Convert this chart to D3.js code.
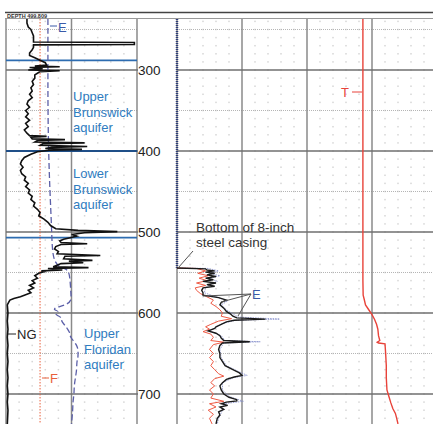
<!DOCTYPE html>
<html>
<head>
<meta charset="utf-8">
<script src="https://cdn.jsdelivr.net/npm/d3@7"></script>
<style>
  body { margin: 0; background: #fff; }
  text { font-family: "Liberation Sans", Arial, sans-serif; }
</style>
</head>
<body>
<div id="log"></div>
<script>
// depth ticks and aquifer boundaries (feet)
var depthTicks = [300, 400, 500, 600, 700];
var halfTicks = [250, 350, 450, 550, 650];
var aquiferTops = [288, 400, 507];

// left track: natural gamma (NG), electric (E), fluid (F) -- relative units 0-100
var ngLog = [[237,16],[242,16],[247,17],[250,19],[254,20],[258,21],[262,21],[265.5,21],[266,98],[268.5,98],[269,21],
  [272,21],[275,20],[279,18],[282,18],[285,22],[288,26],[291,30],[294,31],[295,22],[296,41],[297,18],[298.5,28],
  [300,17],[301,41],[302,26],[304,24],[306,22],[310,22],[314,20],[318,21],
  [322,19],[326,20],[330,18],[334,20],[338,17],[342,16],[346,18],[350,15],[354,17],[358,15],[362,18],[366,15],
  [370,17],[374,14],[378,16],[381,18],[382,31],[383,19],[385,20],[386,45],[387,24],[389,22],[390,60],[391,28],
  [393,26],[394.5,62],[395.5,35],[397,30],[398,58],[399,33],[401,24],[404,19],[408,14],[412,12],[416,11],[420,13],
  [424,11],[428,12],[432,15],[436,14],[440,17],[444,15],[448,18],[452,17],[456,20],[460,19],[464,22],[468,21],
  [472,24],[476,26],[480,25],[484,29],[488,32],[492,34],[496,38],[498,55],[499.5,85],[501,60],[503,50],[505,54],
  [507,49],[509,44],[511,41],[513,42],[514.5,62],[515.5,42],[518,38],[521,37],[524,40],[527,39],[529,72],[530,45],
  [533,44],[535,66],[536,48],[538,59],[539,42],[541,39],[543,36],[544,63],[545,32],[547,43],[548,27],[549,29],
  [551,25],[554,22],[557,24],[560,20],[563,22],[566,18],[569,21],[572,17],[575,19],[578,14],[580,11],[582,6],
  [584,3],[587,2],[590,1],[600,1.5],[610,1],[620,1.5],[630,1],[640,1.5],[650,1],[660,1.5],[670,1],[680,1.5],
  [690,1],[700,1.5],[710,1],[720,1.5],[737,1]];
var eLeft = [[237,32],[300,32],[350,32],[400,32.5],[450,33.5],[500,35],[540,35.5],[545,45],[548,48],[560,49],
  [575,49.5],[585,50],[590,46],[593,38],[596,36],[598,41],[600,37],[603,39],[606,43],[610,42],[615,45],[620,47],
  [625,49],[630,49],[635,52],[640,54],[645,55],[650,55],[655,55],[660,54],[670,54],[680,53],[690,52],[700,52],
  [710,51],[720,51],[737,50]];
var fLog = [[237,26],[737,26]];

// right track: electric logs (black, red, blue) and temperature (T) -- relative units 0-20
var casingBottom = 544.5;
var eRight = [[544.5,0],[545.5,2.2],[547,2.3],[548,2.9],[549.5,2.2],[551,2.9],[553,2.3],[555,3.0],[557,2.2],
  [559,2.8],[561,2.0],[563,3.0],[565,2.3],[567,2.9],[569,2.0],[572,1.9],[575,2.0],[578,2.0],[581,3.2],[584,3.8],
  [587,3.4],[590,3.3],[594,3.6],[598,3.8],[601,4.1],[604,4.3],[606,4.6],[607.5,6.8],[609,4.4],[611,3.8],[614,3.4],
  [617,3.0],[619,2.9],[622,2.4],[625,3.0],[628,3.3],[631,3.4],[634,3.6],[635.5,5.6],[637,3.5],[640,3.3],[645,3.2],
  [650,3.3],[655,3.3],[660,3.5],[665,3.7],[670,4.3],[674,4.8],[677,5.0],[679,4.4],[682,3.8],[686,3.5],[690,3.3],
  [695,3.4],[700,3.6],[704,4.0],[707,4.6],[708.5,4.6],[710,3.8],[712,3.4],[714,3.9],[716,3.3],[719,3.6],[722,3.2],
  [726,3.3],[730,3.1],[737,3.0]];
var eRightRed = [[544.5,0],[545,1.5],[548,2.2],[551,1.6],[554,2.4],[557,1.7],[560,2.3],[563,1.5],[566,2.2],
  [569,1.4],[572,1.5],[576,1.8],[580,2.3],[584,2.8],[588,2.6],[592,3.0],[596,3.3],[600,3.5],[604,3.4],[607,4.2],
  [610,3.2],[614,2.6],[617,2.2],[620,2.5],[623,2.0],[626,2.6],[630,2.8],[634,2.6],[636,3.6],[639,2.8],[645,2.5],
  [650,2.8],[655,2.5],[660,2.8],[665,2.6],[670,2.9],[675,3.2],[678,3.6],[681,2.9],[686,2.6],[690,2.9],[695,2.5],
  [700,2.8],[705,2.6],[709,3.6],[712,2.5],[716,3.0],[720,2.4],[725,2.8],[730,2.5],[737,2.7]];
var eRightBlue = [[237,0],[544.5,0],[545,2.4],[548,3.2],[551,2.5],[554,3.3],[557,2.5],[561,3.1],[565,2.5],
  [569,2.2],[575,2.1],[580,3.0],[585,3.9],[590,3.4],[596,3.8],[600,4.2],[605,4.7],[607.5,7.9],[609,4.5],[613,3.5],
  [618,3.0],[622,2.5],[628,3.4],[634,3.7],[635.5,6.4],[637,3.6],[645,3.3],[655,3.4],[665,3.8],[672,4.7],[677,5.4],
  [680,4.3],[686,3.5],[695,3.5],[703,4.0],[709,5.1],[712,3.6],[720,3.5],[730,3.2],[737,3.1]];
var tLog = [[237,14.3],[400,14.3],[560,14.3],[578,14.32],[583,14.4],[590,14.5],[596,14.75],[602,15.0],[608,15.2],
  [614,15.35],[620,15.45],[628,15.5],[634,15.6],[636,15.4],[637,15.5],[638,16.0],[650,16.05],[665,16.1],[680,16.1],
  [695,16.15],[703,16.3],[711,16.45],[718,16.6],[724,16.8],[730,16.9],[737,17.0]];

var aquiferLabels = [
  {depth: 300, lines: ["Upper", "Brunswick", "aquifer"]},
  {depth: 400, lines: ["Lower", "Brunswick", "aquifer"]},
  {depth: 600, lines: ["Upper", "Floridan", "aquifer"]}
];

var svgWidth = 433, svgHeight = 424;
var trackTop = 19;

var svg = d3.select("#log").append("svg")
  .attr("width", svgWidth)
  .attr("height", svgHeight);

var y = d3.scaleLinear().domain([300, 700]).range([70, 394]);
var xL = d3.scaleLinear().domain([0, 100]).range([6, 137]);
var xR = d3.scaleLinear().domain([0, 20]).range([177, 437]);

var defs = svg.append("defs");
defs.append("clipPath").attr("id", "clipL").append("rect")
  .attr("x", xL(0)).attr("y", trackTop).attr("width", xL(100) - xL(0)).attr("height", svgHeight - trackTop);
defs.append("clipPath").attr("id", "clipR").append("rect")
  .attr("x", xR(0) - 2).attr("y", trackTop).attr("width", svgWidth - xR(0) + 2).attr("height", svgHeight - trackTop);

// header band
svg.append("line").attr("x1", 5).attr("x2", svgWidth).attr("y1", 12.5).attr("y2", 12.5)
  .attr("stroke", "#444").attr("stroke-width", 1.5);
svg.append("line").attr("x1", 5).attr("x2", svgWidth).attr("y1", 18.5).attr("y2", 18.5)
  .attr("stroke", "#999").attr("stroke-width", 1);
svg.append("text").attr("x", 7).attr("y", 17.6)
  .attr("font-size", 5.5).attr("font-weight", "bold").attr("fill", "#333")
  .text("DEPTH   499.809");

// minor dot grid
var rows = d3.range(240, 740, 10);
var dotsL = [], dotsR = [];
rows.forEach(function(d) {
  d3.range(1, 10).forEach(function(c) { if (c !== 5) dotsL.push([d, c * 10]); });
  d3.range(1, 20).forEach(function(c) { if (c % 5 !== 0) dotsR.push([d, c]); });
});
svg.append("g").selectAll("rect").data(dotsL).enter().append("rect")
  .attr("x", d => xL(d[1]) - 0.75).attr("y", d => y(d[0]) - 0.75)
  .attr("width", 1.5).attr("height", 1.5).attr("fill", "#d6d6d6");
svg.append("g").selectAll("rect").data(dotsR).enter().append("rect")
  .attr("x", d => xR(d[1]) - 0.75).attr("y", d => y(d[0]) - 0.75)
  .attr("width", 1.5).attr("height", 1.5).attr("fill", "#d6d6d6");

// half-hundred dotted lines
var grid = svg.append("g");
halfTicks.forEach(function(d) {
  grid.append("line").attr("x1", xL(0)).attr("x2", xL(100)).attr("y1", y(d)).attr("y2", y(d))
    .attr("stroke", "#b5b5b5").attr("stroke-dasharray", "1,1");
  grid.append("line").attr("x1", xR(0)).attr("x2", svgWidth).attr("y1", y(d)).attr("y2", y(d))
    .attr("stroke", "#b5b5b5").attr("stroke-dasharray", "1,1");
});

// vertical track lines
[0, 50, 100].forEach(function(v) {
  grid.append("line").attr("x1", xL(v)).attr("x2", xL(v)).attr("y1", trackTop).attr("y2", svgHeight)
    .attr("stroke", "#8a8a8a").attr("stroke-width", 1.5);
});
[0, 5, 10, 15].forEach(function(v) {
  grid.append("line").attr("x1", xR(v)).attr("x2", xR(v)).attr("y1", trackTop).attr("y2", svgHeight)
    .attr("stroke", "#8a8a8a").attr("stroke-width", 1.5);
});

// major depth lines
depthTicks.forEach(function(d) {
  grid.append("line").attr("x1", xL(0)).attr("x2", 138).attr("y1", y(d)).attr("y2", y(d))
    .attr("stroke", "#6f6f6f").attr("stroke-width", 1.5);
  grid.append("line").attr("x1", xR(0)).attr("x2", svgWidth).attr("y1", y(d)).attr("y2", y(d))
    .attr("stroke", "#6f6f6f").attr("stroke-width", 1.5);
});

// depth labels
var depthAxis = d3.axisRight(y).tickValues(depthTicks).tickSize(0).tickPadding(1);
svg.append("g")
  .attr("transform", "translate(137,0)")
  .call(depthAxis)
  .call(g => g.select(".domain").remove())
  .selectAll("text")
  .attr("font-size", 13.5)
  .attr("font-family", "Liberation Sans, Arial, sans-serif")
  .attr("fill", "#222");

// aquifer boundaries
svg.append("g").selectAll("line").data(aquiferTops).enter().append("line")
  .attr("x1", xL(0)).attr("x2", xL(100))
  .attr("y1", d => y(d)).attr("y2", d => y(d))
  .attr("stroke", d => d === 400 ? "#1f4f88" : "#2d6cb0").attr("stroke-width", 1.8);

var line = function(xs) {
  return d3.line().x(d => xs(d[1])).y(d => y(d[0]));
};

// left track curves
var left = svg.append("g").attr("clip-path", "url(#clipL)");
left.append("path").datum(fLog).attr("d", line(xL))
  .attr("fill", "none").attr("stroke", "#e8603c").attr("stroke-width", 1)
  .attr("stroke-dasharray", "1.5,1.5");
left.append("path").datum(eLeft).attr("d", line(xL).curve(d3.curveBasis))
  .attr("fill", "none").attr("stroke", "#5b5fa8").attr("stroke-width", 1.3)
  .attr("stroke-dasharray", "6,3");
left.append("path").datum(ngLog).attr("d", line(xL))
  .attr("fill", "none").attr("stroke", "#111").attr("stroke-width", 1.6);

// right track curves
var right = svg.append("g").attr("clip-path", "url(#clipR)");
right.append("path").datum(eRightBlue.filter(d => d[0] <= casingBottom)).attr("d", line(xR))
  .attr("fill", "none").attr("stroke", "#2b3a78").attr("stroke-width", 2.5)
  .attr("stroke-dasharray", "1,1");
right.append("path").datum(eRightBlue.filter(d => d[0] >= casingBottom)).attr("d", line(xR))
  .attr("fill", "none").attr("stroke", "#7d88c8").attr("stroke-width", 0.8)
  .attr("stroke-dasharray", "1.5,1");
right.append("path").datum(eRightRed).attr("d", line(xR))
  .attr("fill", "none").attr("stroke", "#ee5a45").attr("stroke-width", 1);
right.append("path").datum(eRight).attr("d", line(xR))
  .attr("fill", "none").attr("stroke", "#1a1a1a").attr("stroke-width", 1.4);
right.append("path").datum(tLog).attr("d", line(xR))
  .attr("fill", "none").attr("stroke", "#e8433a").attr("stroke-width", 1.4);

// aquifer names
var blue = "#2f7cc0";
aquiferLabels.forEach(function(a, i) {
  var x0 = i === 2 ? 84 : 73;
  var base = i === 0 ? 101 : i === 1 ? 178 : 338;
  a.lines.forEach(function(t, j) {
    svg.append("text").attr("x", x0).attr("y", base + j * 15.5)
      .attr("font-size", 13).attr("fill", blue).text(t);
  });
});

// curve labels
var lab = svg.append("g").attr("font-size", 13);
lab.append("line").attr("x1", 50).attr("x2", 57).attr("y1", 26).attr("y2", 26).attr("stroke", "#3a5aa8");
lab.append("text").attr("x", 58).attr("y", 32).attr("fill", "#3a5aa8").text("E");
lab.append("line").attr("x1", 8).attr("x2", 16).attr("y1", 334).attr("y2", 334).attr("stroke", "#222");
lab.append("text").attr("x", 17).attr("y", 339).attr("fill", "#222").text("NG");
lab.append("line").attr("x1", 42).attr("x2", 49).attr("y1", 378).attr("y2", 378).attr("stroke", "#e8603c");
lab.append("text").attr("x", 50).attr("y", 383).attr("fill", "#e8603c").text("F");
lab.append("text").attr("x", 341).attr("y", 97).attr("fill", "#e8433a").text("T");
lab.append("line").attr("x1", 352).attr("x2", 362).attr("y1", 92).attr("y2", 92).attr("stroke", "#e8433a");

// casing callout
lab.append("text").attr("x", 196).attr("y", 232).attr("font-size", 13.5).attr("fill", "#333").text("Bottom of 8-inch");
lab.append("text").attr("x", 196).attr("y", 247).attr("font-size", 13.5).attr("fill", "#333").text("steel casing");
lab.append("line").attr("x1", 193).attr("y1", 251).attr("x2", xR(0) + 1).attr("y2", y(casingBottom))
  .attr("stroke", "#555");

// E callout on right track
lab.append("text").attr("x", 252).attr("y", 299).attr("fill", "#3a5aa8").text("E");
[[203, 296], [221, 302], [238, 316]].forEach(function(p) {
  lab.append("line").attr("x1", 251).attr("y1", 294).attr("x2", p[0]).attr("y2", p[1])
    .attr("stroke", "#555");
});
</script>
</body>
</html>
